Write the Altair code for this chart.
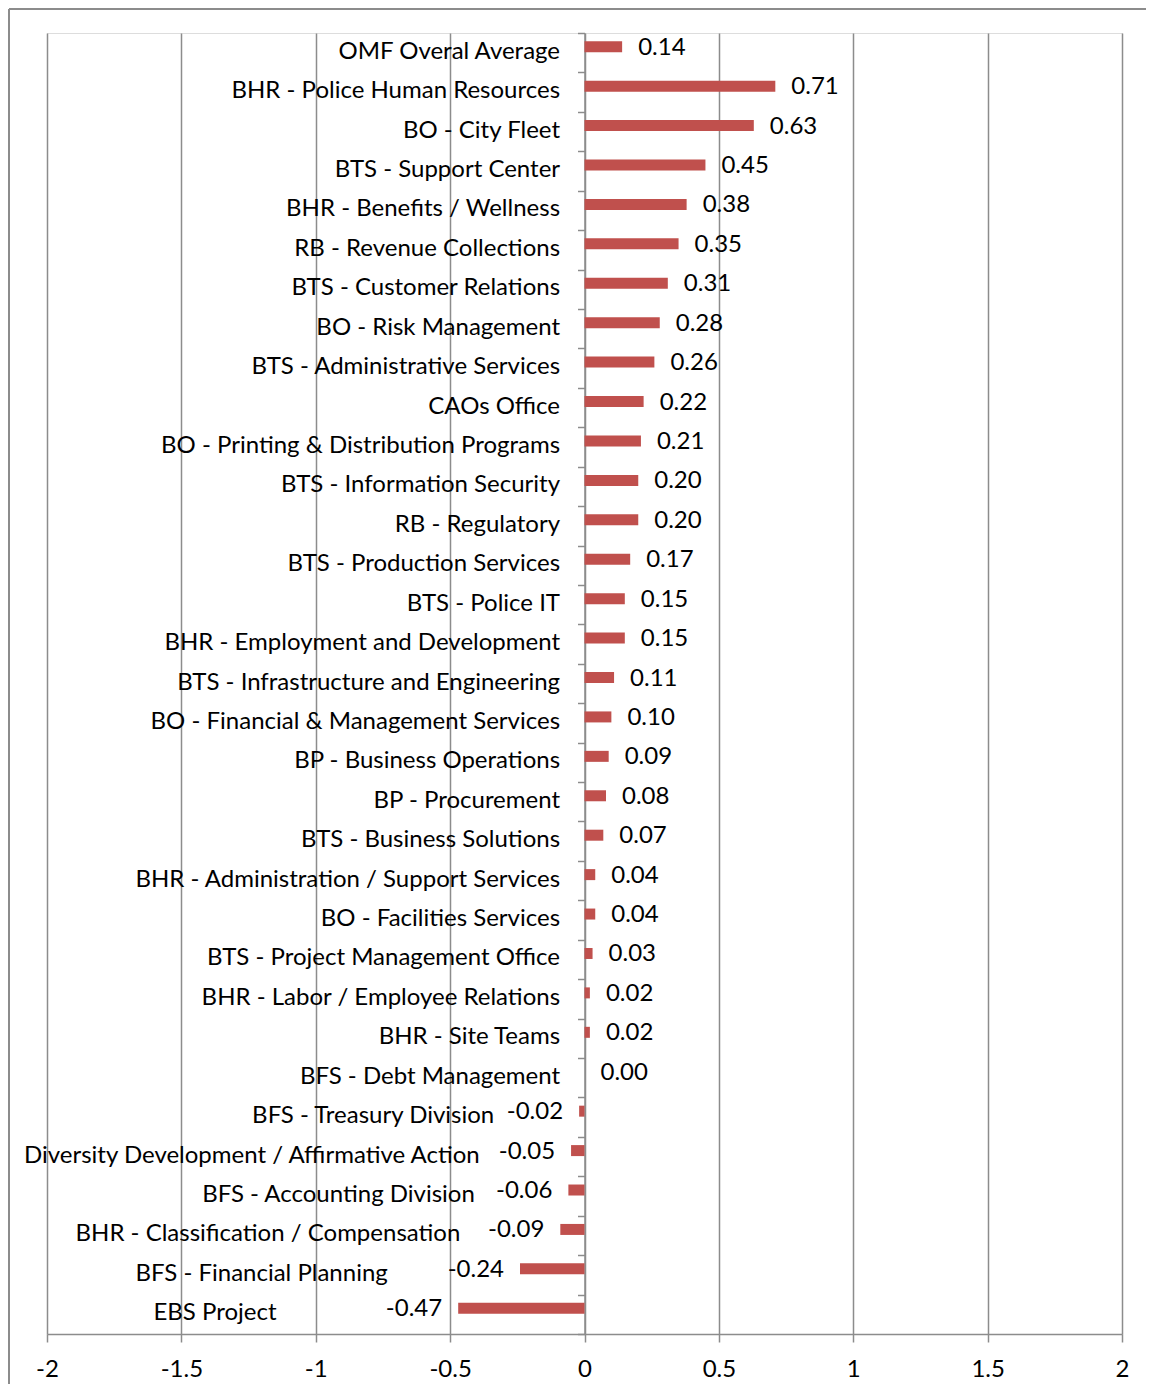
import altair as alt
import pandas as pd

categories = [
    "OMF Overal Average",
    "BHR - Police Human Resources",
    "BO - City Fleet",
    "BTS - Support Center",
    "BHR - Benefits / Wellness",
    "RB - Revenue Collections",
    "BTS - Customer Relations",
    "BO - Risk Management",
    "BTS - Administrative Services",
    "CAOs Office",
    "BO - Printing & Distribution Programs",
    "BTS - Information Security",
    "RB - Regulatory",
    "BTS - Production Services",
    "BTS - Police IT",
    "BHR - Employment and Development",
    "BTS - Infrastructure and Engineering",
    "BO - Financial & Management Services",
    "BP - Business Operations",
    "BP - Procurement",
    "BTS - Business Solutions",
    "BHR - Administration / Support Services",
    "BO - Facilities Services",
    "BTS - Project Management Office",
    "BHR - Labor / Employee Relations",
    "BHR - Site Teams",
    "BFS - Debt Management",
    "BFS - Treasury Division",
    "Diversity Development / Affirmative Action",
    "BFS - Accounting Division",
    "BHR - Classification / Compensation",
    "BFS - Financial Planning",
    "EBS Project",
]
values = [
    0.14, 0.71, 0.63, 0.45, 0.38, 0.35, 0.31, 0.28, 0.26, 0.22, 0.21,
    0.20, 0.20, 0.17, 0.15, 0.15, 0.11, 0.10, 0.09, 0.08, 0.07, 0.04,
    0.04, 0.03, 0.02, 0.02, 0.00, -0.02, -0.05, -0.06, -0.09, -0.24, -0.47,
]
x_ticks = [-2, -1.5, -1, -0.5, 0, 0.5, 1, 1.5, 2]

df = pd.DataFrame({
    "cat": categories,
    "value": values,
    "label": [f"{v:.2f}" for v in values],
})

W, H = 1075, 1301
FONT = "Lato"
FS = 24
GRID = "#8c8c8c"
BAR = "#C0504D"

y_enc = alt.Y(
    "cat:N",
    sort=categories,
    scale=alt.Scale(paddingInner=0, paddingOuter=0),
    axis=alt.Axis(
        labels=False, title=None, ticks=True, tickBand="extent", tickSize=7,
        tickColor=GRID, tickWidth=1.5, domainColor=GRID, domainWidth=1.5,
        offset=-W / 2, grid=False,
    ),
)
x_scale = alt.Scale(domain=[-2, 2], nice=False, zero=False)

base = alt.Chart(df)

bars = base.mark_bar(color=BAR, size=11, yOffset=-6).encode(
    y=y_enc,
    x=alt.X(
        "value:Q",
        scale=x_scale,
        axis=alt.Axis(
            values=x_ticks, grid=True, gridColor=GRID, gridWidth=1.5,
            domainColor=GRID, domainWidth=1.5, tickColor=GRID, tickWidth=1.5,
            tickSize=8, labelFont=FONT, labelFontSize=FS, labelColor="black",
            labelPadding=15, labelFlush=False, title=None,
            labelExpr="datum.value",
        ),
    ),
)

pos_labels = base.transform_filter("datum.value >= 0").mark_text(
    align="left", baseline="middle", dx=16, yOffset=-5, font=FONT, fontSize=FS, color="black"
).encode(y=alt.Y("cat:N", sort=categories), x=alt.X("value:Q", scale=x_scale), text="label:N")

neg_labels = base.transform_filter("datum.value < 0").mark_text(
    align="right", baseline="middle", dx=-16, yOffset=-5, font=FONT, fontSize=FS, color="black"
).encode(y=alt.Y("cat:N", sort=categories), x=alt.X("value:Q", scale=x_scale), text="label:N")

cat_labels = base.transform_calculate(
    lx="datum.value < 0 ? 1.8 * datum.value - 0.3 : -0.091"
).mark_text(
    align="right", baseline="middle", yOffset=-1, font=FONT, fontSize=FS, color="black"
).encode(y=alt.Y("cat:N", sort=categories), x=alt.X("lx:Q", scale=x_scale), text="cat:N")

frame_df = pd.DataFrame({"k": [0]})
frame_left = alt.Chart(frame_df).mark_rule(color="#8c8c8c", strokeWidth=2).encode(
    x=alt.value(-38), y=alt.value(-24), y2=alt.value(H + 60)
)
frame_top = alt.Chart(frame_df).mark_rule(color="#8c8c8c", strokeWidth=2).encode(
    y=alt.value(-24), x=alt.value(-38), x2=alt.value(W + 24)
)

chart = alt.layer(bars, pos_labels, neg_labels, cat_labels, frame_left, frame_top).properties(
    width=W, height=H,
    autosize=alt.AutoSizeParams(type="none"),
    padding={"left": 39, "top": 25, "right": 24, "bottom": 50},
).configure_view(stroke=None).configure(background="white")

chart.save("out.html", embed_options={"renderer": "svg", "actions": False})
